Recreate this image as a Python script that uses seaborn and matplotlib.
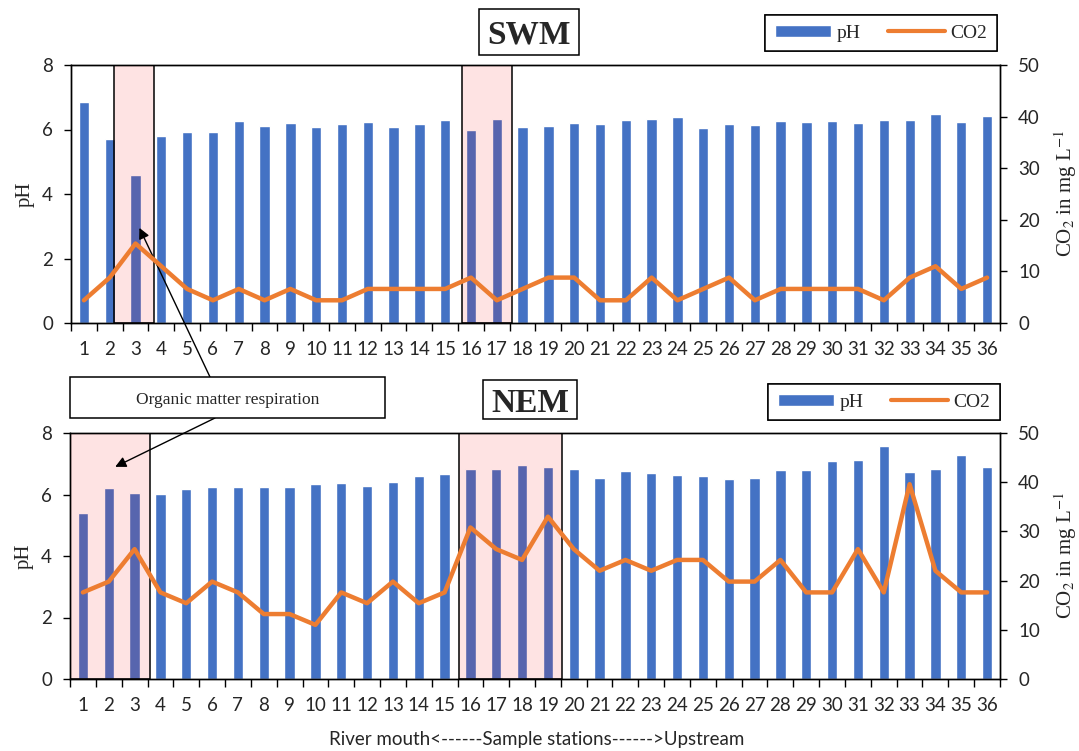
import numpy as np
import pandas as pd
import matplotlib
matplotlib.use("Agg")
import matplotlib.pyplot as plt
from matplotlib.patches import Rectangle, Patch
from matplotlib.lines import Line2D
import seaborn as sns

# ---------------------------------------------------------------- data
stations = [str(i) for i in range(1, 37)]

swm_ph = [6.86, 5.72, 4.59, 5.80, 5.92, 5.93, 6.26, 6.11, 6.21, 6.08,
          6.17, 6.24, 6.08, 6.16, 6.29, 5.98, 6.32, 6.09, 6.11, 6.20,
          6.17, 6.29, 6.34, 6.39, 6.06, 6.16, 6.15, 6.25, 6.22, 6.25,
          6.21, 6.29, 6.29, 6.49, 6.22, 6.41]
swm_co2 = [4.4, 8.8, 15.4, 11.0, 6.6, 4.4, 6.6, 4.4, 6.6, 4.4,
           4.4, 6.6, 6.6, 6.6, 6.6, 8.8, 4.4, 6.6, 8.8, 8.8,
           4.4, 4.4, 8.8, 4.4, 6.6, 8.8, 4.4, 6.6, 6.6, 6.6,
           6.6, 4.4, 8.8, 11.0, 6.6, 8.8]

nem_ph = [5.41, 6.20, 6.04, 6.02, 6.18, 6.24, 6.24, 6.24, 6.23, 6.34,
          6.39, 6.28, 6.42, 6.59, 6.68, 6.83, 6.84, 6.97, 6.88, 6.82,
          6.54, 6.77, 6.71, 6.65, 6.59, 6.49, 6.54, 6.81, 6.81, 7.10,
          7.13, 7.59, 6.74, 6.84, 7.29, 6.89]
nem_co2 = [17.6, 19.8, 26.4, 17.6, 15.4, 19.8, 17.6, 13.2, 13.2, 11.0,
           17.6, 15.4, 19.8, 15.4, 17.6, 30.8, 26.4, 24.2, 33.0, 26.4,
           22.0, 24.2, 22.0, 24.2, 24.2, 19.8, 19.8, 24.2, 17.6, 17.6,
           26.4, 17.6, 39.6, 22.0, 17.6, 17.6]

# ---------------------------------------------------------------- style
sns.set_style("white")
plt.rcParams["font.family"] = ["Lato", "DejaVu Sans"]
plt.rcParams["mathtext.fontset"] = "stix"

SERIF = "Liberation Serif"
BAR_COLOR = "#4472C4"
LINE_COLOR = "#ED7D31"
SHADE = (0.98, 0.0, 0.0, 0.11)
TICK_SIZE = 13.5

W, H = 1079, 751
fig = plt.figure(figsize=(W / 100, H / 100), dpi=100)


def fig_box(x0, y0, x1, y1):
    """Rectangle given in pixel coordinates measured from the top-left."""
    return [x0 / W, 1 - y1 / H, (x1 - x0) / W, (y1 - y0) / H]


ax_top = fig.add_axes(fig_box(71, 65, 1000, 323))
ax_bot = fig.add_axes(fig_box(70, 433, 1000, 679))


def draw_panel(ax, ph, co2, shaded):
    df = pd.DataFrame({"Station": stations, "pH": ph, "CO2": co2})
    sns.barplot(data=df, x="Station", y="pH", order=stations,
                color=BAR_COLOR, saturation=1, width=0.4, ax=ax, zorder=2)
    ax.set_xlim(-0.5, 35.5)
    ax.set_ylim(0, 8)
    ax.set_yticks([0, 2, 4, 6, 8])
    ax.set_xticks(np.arange(36))
    ax.set_xticklabels(stations)
    ax.set_xticks(np.arange(-0.5, 36, 1), minor=True)
    ax.tick_params(axis="x", which="major", length=0, pad=13,
                   labelsize=TICK_SIZE)
    ax.tick_params(axis="x", which="minor", length=6, width=1, direction="out",
                   color="black", bottom=True)
    ax.tick_params(axis="y", length=5, width=1, direction="out", left=True,
                   pad=8, labelsize=TICK_SIZE, color="black")
    ax.set_xlabel("")
    ax.set_ylabel("pH", family=SERIF, fontsize=15, labelpad=5)
    for sp in ax.spines.values():
        sp.set_visible(True)
        sp.set_color("black")
        sp.set_linewidth(1)

    # highlighted station groups
    for x0, x1 in shaded:
        ax.add_patch(Rectangle((x0, 0), x1 - x0, 8, facecolor=SHADE,
                               edgecolor="black", lw=1.1, zorder=3))

    tw = ax.twinx()
    sns.lineplot(x=np.arange(36), y=co2, ax=tw, color=LINE_COLOR, lw=3.2)
    tw.set_ylim(0, 50)
    tw.set_yticks([0, 10, 20, 30, 40, 50])
    tw.tick_params(axis="y", length=5, width=1, direction="out", right=True,
                   pad=8, labelsize=TICK_SIZE, color="black")
    tw.set_ylabel(r"CO$_2$ in mg L$^{-1}$", family=SERIF, fontsize=15,
                  labelpad=9)
    for sp in tw.spines.values():
        sp.set_color("black")
        sp.set_linewidth(1)
    return tw


tw_top = draw_panel(ax_top, swm_ph, swm_co2, [(1.17, 2.72), (14.65, 16.6)])
tw_bot = draw_panel(ax_bot, nem_ph, nem_co2, [(-0.5, 2.6), (14.56, 18.55)])


# ---------------------------------------------------------------- titles
def boxed_label(x0, y0, x1, y1, text, **kw):
    fig.add_artist(Rectangle((x0 / W, 1 - y1 / H), (x1 - x0) / W,
                             (y1 - y0) / H, transform=fig.transFigure,
                             facecolor="white", edgecolor="black", lw=1.1,
                             zorder=5))
    fig.text((x0 + x1) / 2 / W, 1 - (y0 + y1) / 2 / H, text, ha="center",
             va="center_baseline", zorder=6, **kw)


boxed_label(479, 9, 579, 55, "SWM", family=SERIF, fontsize=24,
            fontweight="bold")
boxed_label(483, 380, 577, 419, "NEM", family=SERIF, fontsize=24,
            fontweight="bold")
boxed_label(70, 377, 385, 418, "Organic matter respiration", family=SERIF,
            fontsize=12.5)

# ---------------------------------------------------------------- legends
handles = [Patch(facecolor=BAR_COLOR, label="pH"),
           Line2D([], [], color=LINE_COLOR, lw=3, label="CO2")]
for right, top in [(997, 15), (1000, 384)]:
    leg = fig.legend(handles=handles, ncol=2, loc="upper right",
                     bbox_to_anchor=(right / W, 1 - top / H),
                     frameon=True, fancybox=False, edgecolor="black",
                     framealpha=1, borderpad=0.5, handlelength=2.9,
                     handleheight=0.55, handletextpad=0.3, columnspacing=1.4,
                     borderaxespad=0, prop={"family": SERIF, "size": 14})
    leg.get_frame().set_linewidth(1.1)
    fig.add_artist(leg)

# ---------------------------------------------------------------- arrows
arrow_kw = dict(arrowstyle="-|>", color="black", lw=1, mutation_scale=16,
                shrinkA=0, shrinkB=0)
ax_top.annotate("", xy=(2.15, 2.95), xycoords="data",
                xytext=(210 / W, 1 - 377 / H), textcoords="figure fraction",
                arrowprops=arrow_kw, zorder=7, annotation_clip=False)
ax_bot.annotate("", xy=(1.25, 6.9), xycoords="data",
                xytext=(215 / W, 1 - 418 / H), textcoords="figure fraction",
                arrowprops=arrow_kw, zorder=7, annotation_clip=False)

fig.text(537 / W, 1 - 740 / H,
         "River mouth<------Sample stations------>Upstream",
         ha="center", va="center", fontsize=13.5)

fig.savefig("out.png", dpi=100, facecolor="white")
